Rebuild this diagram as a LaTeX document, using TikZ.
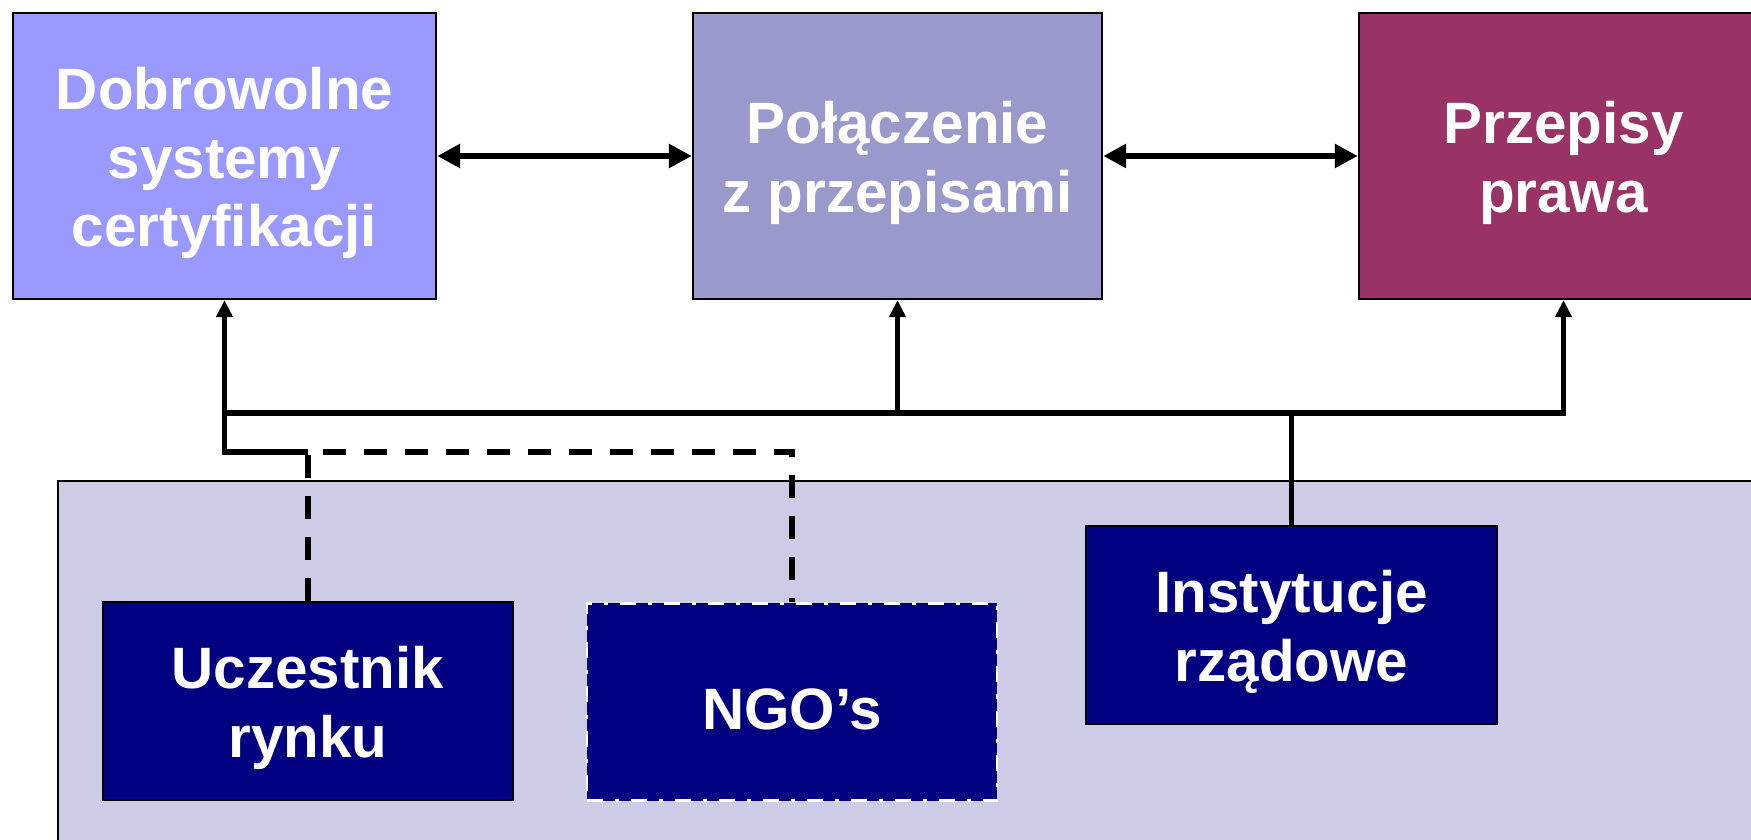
\documentclass[tikz,border=0pt]{standalone}
\usepackage{fontspec}
\setmainfont{Liberation Sans}
\usetikzlibrary{arrows.meta}

\definecolor{volcol}{HTML}{9999FF}
\definecolor{linkcol}{HTML}{9999CC}
\definecolor{lawcol}{HTML}{993366}
\definecolor{panelcol}{HTML}{CCCCE6}
\definecolor{navycol}{HTML}{000080}

% taller first line, pushes the text block a bit down
\newcommand*{\up}{\rule{0pt}{16pt}}

\begin{document}
\begin{tikzpicture}[
		x=0.01cm, y=-0.01cm,
		box/.style={draw=black,line width=0.6pt,inner sep=0pt,align=center,text=white,
			font=\bfseries\fontsize{16.6}{19.4}\selectfont},
		topbox/.style={box,minimum width=#1,minimum height=2.86cm},
		actor/.style={box,fill=navycol,minimum width=4.1cm,minimum height=1.97cm},
		link/.style={line width=1.6pt},
		twoway/.style={link,{Triangle[length=2.3mm,width=2.3mm]}-{Triangle[length=2.3mm,width=2.3mm]}},
		oneway/.style={link,-{Triangle[length=1.7mm,width=1.6mm]}},
		loose/.style={link,dash pattern=on 2.3mm off 1.8mm},
]

\def\busY{413}
\def\ngoY{452}

\useasboundingbox (0,0) rectangle (1751,840);
\clip (0,0) rectangle (1751,840);

% background panel with the actors
\filldraw[fill=panelcol,draw=black,line width=0.8pt] (58,481) rectangle (1800,900);

\node[topbox=4.23cm,fill=volcol] (dobr) at (224.5,156) {\up Dobrowolne\\systemy\\certyfikacji};
\node[topbox=4.09cm,fill=linkcol] (pol) at (897.5,156) {\up Połączenie\\z przepisami};
\node[topbox=4.09cm,fill=lawcol] (prz) at (1563.5,156) {\up Przepisy\\prawa};

\node[actor] (ucz) at (308,701) {\up Uczestnik\\rynku};
\node[actor,draw=white,line width=0.7pt,dash pattern=on 1.6mm off 1.2mm on 0.4mm off 1.2mm] (ngo) at (792,702) {\up NGO’s};
\node[actor] (inst) at (1291.5,625) {\up Instytucje\\rządowe};

\coordinate (bus) at (0,\busY);
\coordinate (ngorow) at (0,\ngoY);

\draw[twoway] (dobr) -- (pol);
\draw[twoway] (pol) -- (prz);

%\draw (dobr.south) -- (ucz.north);
\draw[oneway] (dobr.south |- bus) -| (prz.south);
\draw[oneway] (pol.south |- bus) -- (pol.south);
\draw[link] (inst.north) -- (inst.north |- bus);

\draw[loose] (ucz.north) -- (ucz.north |- ngorow) -- (ngo.north |- ngorow) -- (ngo.north);
\draw[oneway] (ucz.north |- ngorow) -| (dobr.south);

\end{tikzpicture}
\end{document}
